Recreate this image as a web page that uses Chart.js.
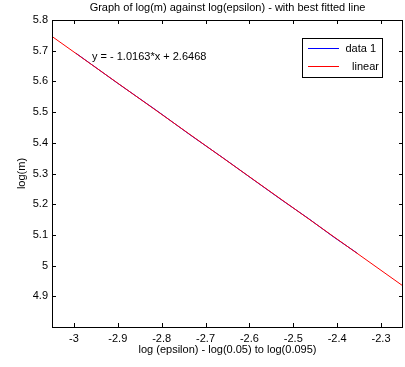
<!DOCTYPE html>
<html lang="en">
<head>
    <meta charset="UTF-8">
    <title>log(m) against log(epsilon)</title>
    <script src="https://cdn.jsdelivr.net/npm/chart.js"></script>
    <style>
        html, body { margin: 0; padding: 0; background: #fff; }
        #wrap { width: 405px; height: 367px; }
    </style>
</head>
<body>
    <div id="wrap"><canvas id="myChart" width="405" height="367"></canvas></div>

    <script>
        // measured data (log epsilon, log m)
        const logEps = [-2.9957, -2.9004, -2.8134, -2.7334, -2.6593, -2.5903, -2.5257, -2.4651, -2.4079, -2.3539];
        const logM   = [5.692, 5.594, 5.507, 5.424, 5.350, 5.279, 5.213, 5.153, 5.093, 5.040];

        // best fitted line, across the whole axis
        const fitX = [-3.05, -2.25];
        const fitY = [5.7465, 4.9337];

        const xTicks = [-3, -2.9, -2.8, -2.7, -2.6, -2.5, -2.4, -2.3];
        const yTicks = [4.9, 5, 5.1, 5.2, 5.3, 5.4, 5.5, 5.6, 5.7, 5.8];

        const titleText = 'Graph of log(m) against log(epsilon) - with best fitted line';
        const xLabel = 'log (epsilon) - log(0.05) to log(0.095)';
        const yLabel = 'log(m)';
        const fitText = 'y = - 1.0163*x + 2.6468';
        const legendNames = ['data 1', 'linear'];

        const FONT = '11px "Liberation Sans", Arial, sans-serif';

        // matlab style box, inward ticks, tick labels, title, legend
        const matlabBits = {
            id: 'matlabBits',
            afterDatasetsDraw(chart) {
                const ctx = chart.ctx;
                const a = chart.chartArea;
                const xs = chart.scales.x, ys = chart.scales.y;
                ctx.save();
                ctx.strokeStyle = '#000';
                ctx.lineWidth = 1;
                ctx.strokeRect(Math.round(a.left) + 0.5, Math.round(a.top) + 0.5,
                    Math.round(a.right - a.left) - 1, Math.round(a.bottom - a.top));
                ctx.beginPath();
                xTicks.forEach(v => {
                    const px = Math.round(xs.getPixelForValue(v)) + 0.5;
                    ctx.moveTo(px, a.bottom); ctx.lineTo(px, a.bottom - 4);
                    ctx.moveTo(px, a.top); ctx.lineTo(px, a.top + 4);
                });
                yTicks.forEach(v => {
                    const py = Math.round(ys.getPixelForValue(v)) + 0.5;
                    ctx.moveTo(a.left, py); ctx.lineTo(a.left + 4, py);
                    ctx.moveTo(a.right, py); ctx.lineTo(a.right - 4, py);
                });
                ctx.stroke();

                ctx.fillStyle = '#000';
                ctx.font = FONT;
                ctx.textBaseline = 'middle';

                // tick labels
                ctx.textAlign = 'center';
                xTicks.forEach(v => ctx.fillText(String(v), xs.getPixelForValue(v), a.bottom + 12));
                ctx.textAlign = 'right';
                yTicks.forEach(v => ctx.fillText(String(v), a.left - 4, ys.getPixelForValue(v)));

                ctx.textAlign = 'center';
                ctx.fillText(titleText, (a.left + a.right) / 2, 8);
                ctx.fillText(xLabel, (a.left + a.right) / 2, 350);
                ctx.save();
                ctx.translate(22, (a.top + a.bottom) / 2);
                ctx.rotate(-Math.PI / 2);
                ctx.fillText(yLabel, 0, 0);
                ctx.restore();

                ctx.textAlign = 'left';
                ctx.fillText(fitText, 92, 57);

                // legend
                ctx.fillStyle = '#fff';
                ctx.fillRect(302, 38, 80, 39);
                ctx.strokeRect(302.5, 38.5, 80, 39);
                ctx.strokeStyle = 'rgb(0,0,255)';
                ctx.beginPath(); ctx.moveTo(308, 48.5); ctx.lineTo(339, 48.5); ctx.stroke();
                ctx.strokeStyle = 'rgb(255,0,0)';
                ctx.beginPath(); ctx.moveTo(308, 66.5); ctx.lineTo(339, 66.5); ctx.stroke();
                ctx.fillStyle = '#000';
                ctx.textAlign = 'right';
                ctx.fillText(legendNames[0], 376, 49);
                ctx.fillText(legendNames[1], 379, 67);
                ctx.restore();
            }
        };

        const ctx = document.getElementById('myChart').getContext('2d');
        const myChart = new Chart(ctx, {
            type: 'scatter',
            data: {
                datasets: [
                    {
                        label: legendNames[1],
                        data: fitX.map((x, i) => ({ x: x, y: fitY[i] })),
                        showLine: true,
                        borderColor: 'rgb(255,0,0)',
                        borderWidth: 1,
                        pointRadius: 0,
                        order: 0
                    },
                    {
                        label: legendNames[0],
                        data: logEps.map((x, i) => ({ x: x, y: logM[i] })),
                        showLine: true,
                        borderColor: 'rgb(0,0,255)',
                        borderWidth: 1,
                        pointRadius: 0,
                        order: 1
                    }
                ]
            },
            options: {
                responsive: false,
                animation: false,
                layout: { padding: { top: 20, right: 2, left: 0, bottom: 0 } },
                plugins: { legend: { display: false }, tooltip: { enabled: false } },
                scales: {
                    x: {
                        type: 'linear',
                        min: -3.05,
                        max: -2.25,
                        grid: { display: false },
                        border: { display: false },
                        ticks: { display: false },
                        afterFit: s => { s.height = 40; }
                    },
                    y: {
                        type: 'linear',
                        min: 4.8,
                        max: 5.8,
                        grid: { display: false },
                        border: { display: false },
                        ticks: { display: false },
                        afterFit: s => { s.width = 52; }
                    }
                }
            },
            plugins: [matlabBits]
        });
    </script>
</body>
</html>
